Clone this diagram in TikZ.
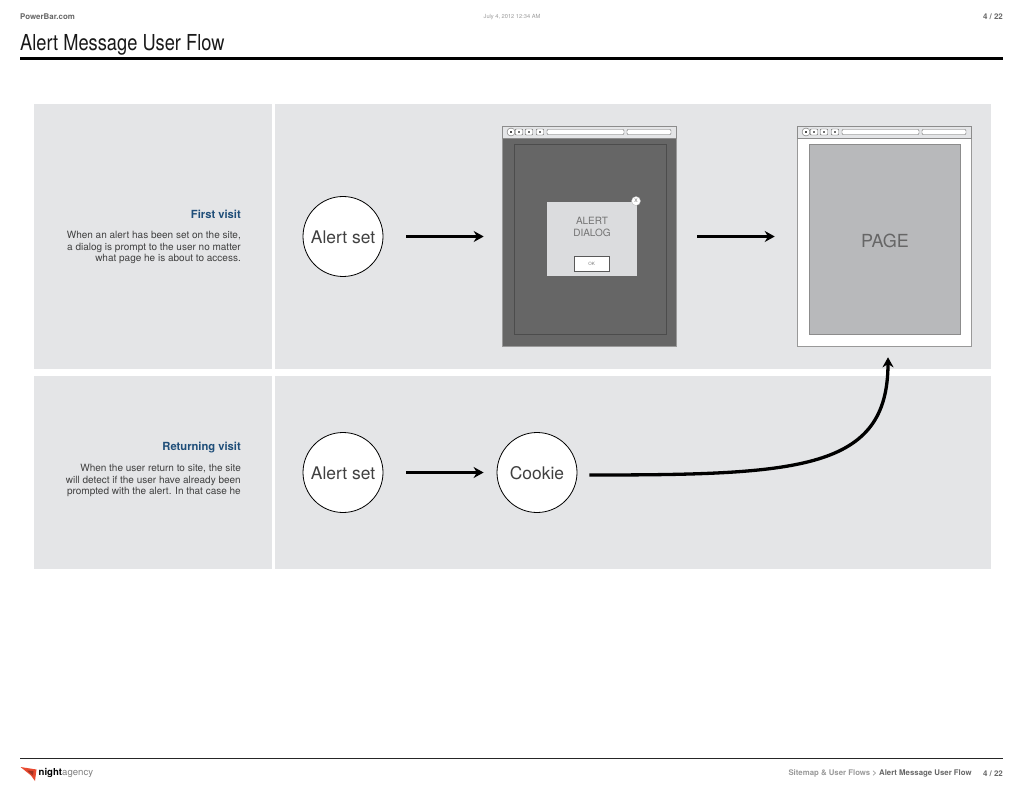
\documentclass[tikz,border=0pt]{standalone}
\usepackage{fontspec}
\setmainfont{TeX Gyre Heros}
\newfontfamily\titlefont[FakeStretch=0.83]{TeX Gyre Heros}
\usetikzlibrary{positioning,arrows.meta}
\definecolor{panelgray}{HTML}{E4E5E7}
\definecolor{dimgray}{HTML}{666666}
\definecolor{pagegray}{HTML}{B8B9BB}
\definecolor{headblue}{HTML}{1F4E79}
\definecolor{logored}{HTML}{E8492F}
% toolbar of a browser window, #1 = prefix, #2 = left edge
\newcommand{\browserbar}[2]{
    \node[barbox, minimum width=174pt, minimum height=12pt, draw=black!45] (#1bar) at (#2+87,132) {};
    \node[tinybtn, circle, minimum size=8pt] (#1back) at (#2+9,132) {};
    \foreach \dx/\nm in {17/next, 27/home, 38/reload}{
      \node[tinybtn, minimum width=7.5pt, minimum height=6pt] (#1\nm) at (#2+\dx,132) {};
      \node[fill=black!55, minimum size=2pt, inner sep=0pt] (#1\nm dot) at (#1\nm) {};
    }
    \node[fill=black!70, minimum size=2.5pt, inner sep=0pt] (#1backdot) at (#1back) {};
    \node[tinybtn, minimum width=77pt, minimum height=5pt] (#1addr) at (#2+83.5,132) {};
    \node[tinybtn, minimum width=44pt, minimum height=5pt] (#1search) at (#2+147,132) {};
}
\begin{document}
\begin{tikzpicture}[x=1pt, y=-1pt,
      bubble/.style={draw, circle, fill=white, line width=0.8pt, minimum size=80pt, inner sep=0pt, text height=14.5pt, font=\fontsize{17.4}{20}\selectfont, text=black!75},
      window/.style={draw=black!40, line width=0.6pt, minimum width=174pt, minimum height=220pt, inner sep=0pt},
      barbox/.style={fill=panelgray, line width=0.6pt, inner sep=0pt},
      tinybtn/.style={draw=black!60, fill=white, line width=0.4pt, inner sep=0pt, rounded corners=1pt},
      heading/.style={font=\fontsize{11.2}{13}\selectfont\bfseries, text=headblue, anchor=east, inner sep=0pt},
      body/.style={font=\fontsize{10}{11.5}\selectfont, text=black!75, align=right, anchor=north east, inner sep=0pt},
      flow/.style={-{Stealth[length=10pt, width=11pt]}, line width=3.3pt}]
    \useasboundingbox (0,0) rectangle (1024,791);
    % header
    \node[anchor=west, inner sep=0pt, font=\fontsize{7.9}{9}\selectfont\bfseries, text=dimgray] (site) at (20,16.5) {PowerBar.com};
    \node[inner sep=0pt, font=\fontsize{5.7}{7}\selectfont, text=black!40] (date) at (512,17) {July 4, 2012 12:34 AM};
    \node[anchor=east, inner sep=0pt, font=\fontsize{7.9}{9}\selectfont\bfseries, text=dimgray] (pagetop) at (1003,16.5) {4 / 22};
    \node[anchor=west, inner sep=0pt, font=\titlefont\fontsize{22}{24}\selectfont, text=black!90] (title) at (20,44.5) {Alert Message User Flow};
    \coordinate (ruleA) at (20,58.5);
    \coordinate (ruleB) at (1003,58.5);
    \draw[line width=3pt] (ruleA) -- (ruleB);
    % panels
    \fill[panelgray] (34,104) rectangle (272,369);
    \fill[panelgray] (275,104) rectangle (991,369);
    \fill[panelgray] (34,376) rectangle (272,569);
    \fill[panelgray] (275,376) rectangle (991,569);
    % row texts
    \node[heading] (firsthead) at (241,214) {First visit};
    \node[body] (firsttext) at (241,231.5) {When an alert has been set on the site,\\a dialog is prompt to the user no matter\\what page he is about to access.};
    \node[heading] (returnhead) at (241,447.5) {Returning visit};
    \node[body] (returntext) at (241,464.5) {When the user return to site, the site\\will detect if the user have already been\\prompted with the alert. In that case he};
    % first row
    \node[bubble] (alertone) at (343,236.5) {Alert set};
    \node[window, fill=dimgray] (dialogwin) at (589,236) {};
    \browserbar{dw}{502}
    \node[draw=black!70, line width=0.6pt, minimum width=152pt, minimum height=190pt, inner sep=0pt] (dimpage) at (590,239) {};
    \node[fill=panelgray!96!black, minimum width=90pt, minimum height=74pt, inner sep=0pt] (dialog) at (592,239) {};
    \node[align=center, inner sep=0pt, font=\fontsize{10}{12.5}\selectfont, text=black!55] (dialogtext) at (592,227) {ALERT\\DIALOG};
    \node[draw=black!65, fill=white, line width=0.6pt, minimum width=35pt, minimum height=15pt, inner sep=0pt, font=\fontsize{4.5}{5}\selectfont, text=black!55] (okbtn) at (591.5,263.5) {OK};
    \node[circle, fill=white, draw=black!30, line width=0.3pt, minimum size=9pt, inner sep=0pt, font=\fontsize{5}{5}\selectfont, text=black!60] (closebtn) at (636,201) {X};
    \node[window, fill=white] (pagewin) at (884,236) {};
    \browserbar{pw}{797}
    \node[draw=black!45, fill=pagegray, line width=0.5pt, minimum width=151pt, minimum height=190pt, inner sep=0pt] (page) at (884.5,239) {};
    \node[inner sep=0pt, font=\fontsize{18}{20}\selectfont, text=black!60] (pagetext) at (885,240.5) {PAGE};
    \draw[flow, shorten <=23pt, shorten >=18pt] (alertone) -- (alertone -| dialogwin.west);
    \draw[flow, shorten <=21pt, shorten >=22pt] ([yshift=-0.5pt]dialogwin.east) -- ([yshift=-0.5pt]pagewin.west);
    % second row
    \node[bubble] (alerttwo) at (343,472.5) {Alert set};
    \node[bubble] (cookie) at (537,472.5) {Cookie};
    \draw[flow, shorten <=23pt, shorten >=13pt] (alerttwo) -- (cookie);
    \draw[flow, shorten <=12pt, shorten >=11pt] (cookie.east) ++(0,2.5) .. controls (800,475) and (888,470) .. ([xshift=4pt]pagewin.south);
    % footer
    \coordinate (footA) at (20,758);
    \coordinate (footB) at (1003,758);
    \draw[line width=0.8pt, black!85] (footA) -- (footB);
    \fill[logored] (20.5,767) -- (36.5,769.5) -- (35,781) -- (31,775.5) -- cycle;
    \fill[logored!70!black] (27,770.5) -- (33.5,771) -- (33,775.5) -- cycle;
    \node[anchor=west, inner sep=0pt, font=\fontsize{9.6}{12}\selectfont] (logo) at (38.5,773) {\textbf{night}\textcolor{black!50}{agency}};
    \node[anchor=east, inner sep=0pt, font=\fontsize{7.9}{9}\selectfont\bfseries, text=dimgray] (pagebot) at (1003,773.5) {4 / 22};
    \node[left=11pt of pagebot, inner sep=0pt, font=\fontsize{7.8}{9}\selectfont\bfseries, text=dimgray] (crumb) {\textcolor{black!40}{Sitemap \& User Flows >} Alert Message User Flow};
  \end{tikzpicture}
\end{document}
